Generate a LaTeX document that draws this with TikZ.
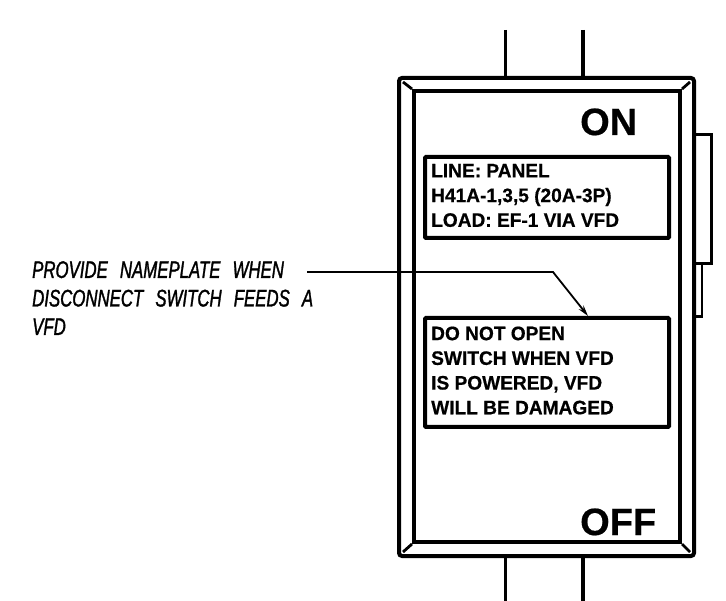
\documentclass[tikz,border=0pt]{standalone}
\usepackage{fontspec}
\setmainfont{Liberation Sans}
\newfontfamily\notefont[FakeStretch=0.70,FakeBold=1.3,WordSpace=2.6,ItalicFont={Liberation Sans Italic}]{Liberation Sans}
\newfontfamily\platefont[FakeBold=0.5,FakeStretch=0.98]{Liberation Sans Bold}
\newfontfamily\bigfont[FakeBold=0.5]{Liberation Sans Bold}
\usetikzlibrary{arrows.meta}
\tikzset{
  wire/.style={line width=3.6pt,black},
  case/.style={draw,line width=4pt,rounded corners=3pt,inner sep=0pt,anchor=north west},
  plate/.style={draw,line width=4pt,inner sep=0pt,anchor=north west,rounded corners=1pt},
  platetxt/.style={inner sep=0pt,anchor=west,align=left,font=\fontsize{19.5}{24.7}\platefont},
  bigtxt/.style={inner sep=0pt,anchor=base west,font=\fontsize{38}{39}\bigfont},
  notetxt/.style={inner sep=0pt,anchor=north west,align=left,font=\fontsize{24}{28.5}\notefont\itshape},
  leader/.style={line width=1.8pt,black}
}
\begin{document}
\begin{tikzpicture}[x=1pt,y=-1pt]
\useasboundingbox[fill=white] (0,0) rectangle (726,601);
% handle
\node[draw,line width=3pt,inner sep=0pt,anchor=north west,minimum width=18pt,minimum height=129pt] (handle) at (692,133) {};
\node[draw,line width=2.6pt,inner sep=0pt,anchor=north west,minimum width=8.5pt,minimum height=53pt] (handlelow) at (692,262) {};
% enclosure
\node[case,fill=white,minimum width=295pt,minimum height=478pt] (outer) at (397,76) {};
\node[case,rounded corners=0pt,minimum width=266pt,minimum height=451pt] (inner) at (412,89) {};
\draw[line width=2.8pt] (outer.north west)++(6,6) coordinate (c1) -- (inner.north west);
\draw[line width=2.8pt] (outer.north east)++(-6,6) coordinate (c2) -- (inner.north east);
\draw[line width=2.8pt] (outer.south west)++(6,-6) coordinate (c3) -- (inner.south west);
\draw[line width=2.8pt] (outer.south east)++(-6,-6) coordinate (c4) -- (inner.south east);
% wires
\coordinate (t1) at (505.5,30);
\coordinate (t2) at (583,30);
\coordinate (b1) at (505.5,601);
\coordinate (b2) at (583,601);
\draw[wire] (t1) -- (t1 |- outer.north);
\draw[wire] (t2) -- (t2 |- outer.north);
\draw[wire] (b1) -- (b1 |- outer.south);
\draw[wire] (b2) -- (b2 |- outer.south);
% labels
\node[bigtxt] (on) at (580,135) {ON};
\node[bigtxt] (off) at (580,535) {OFF};
\node[plate,minimum width=244pt,minimum height=81pt] (plateA) at (423,155) {};
\node[platetxt] (plateAtxt) at (431,195.5) {LINE: PANEL\\H41A-1,3,5 (20A-3P)\\LOAD: EF-1 VIA VFD};
\node[plate,minimum width=244pt,minimum height=109pt] (plateB) at (423,316) {};
\node[platetxt] (plateBtxt) at (431,370.5) {DO NOT OPEN\\SWITCH WHEN VFD\\IS POWERED, VFD\\WILL BE DAMAGED};
% note
\node[notetxt] (note) at (32,261) {PROVIDE NAMEPLATE WHEN\\DISCONNECT SWITCH FEEDS A\\VFD};
\coordinate (ls) at (307,272);
\coordinate (lb) at (553,272);
\draw[leader,-{Stealth[length=11pt,width=6pt]}] (ls) -- (lb) -- (588,316);
\end{tikzpicture}
\end{document}
